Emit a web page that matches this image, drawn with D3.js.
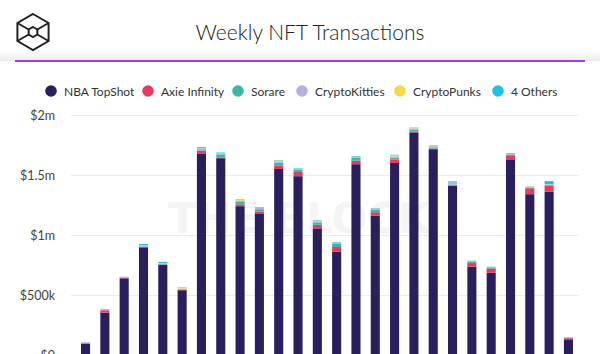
<!DOCTYPE html>
<html>
<head>
<meta charset="utf-8">
<script src="https://cdn.jsdelivr.net/npm/d3@7"></script>
<style>
    body { margin: 0; background: #fff; }
    text { font-family: Lato, "Open Sans", sans-serif; }
    .title { font-size: 21px; fill: #222; font-weight: 300; }
    .legend { font-size: 12px; fill: #333; }
    .tick { font-size: 12.5px; fill: #444; }
    .grid { stroke: #ececec; stroke-width: 1; }
    .watermark { font-family: "DejaVu Sans", sans-serif; font-weight: bold; font-size: 42px; fill: #f4f4f4; }
</style>
</head>
<body>
<div id="chart"></div>
<script>
var width = 600
var height = 354

// weekly volume in $ millions, one entry per week
var weeks = d3.range(26)
var nba     = [0.092, 0.353, 0.639, 0.897, 0.750, 0.540, 1.680, 1.640, 1.240, 1.175, 1.550, 1.490, 1.055, 0.860, 1.590, 1.160, 1.600, 1.855, 1.715, 1.410, 0.736, 0.686, 1.625, 1.340, 1.360, 0.125]
var axie    = [0.006, 0.020, 0.004, 0.004, 0.004, 0.004, 0.020, 0.006, 0.015, 0.020, 0.030, 0.035, 0.030, 0.040, 0.030, 0.030, 0.030, 0.006, 0.004, 0.004, 0.030, 0.035, 0.040, 0.050, 0.050, 0.015]
var sorare  = [0.000, 0.000, 0.000, 0.004, 0.004, 0.002, 0.006, 0.025, 0.020, 0.020, 0.020, 0.020, 0.020, 0.025, 0.025, 0.020, 0.015, 0.015, 0.006, 0.006, 0.012, 0.004, 0.004, 0.004, 0.006, 0.002]
var kitties = [0.008, 0.010, 0.010, 0.008, 0.006, 0.008, 0.012, 0.008, 0.010, 0.010, 0.008, 0.006, 0.010, 0.010, 0.006, 0.008, 0.010, 0.012, 0.015, 0.015, 0.006, 0.008, 0.006, 0.008, 0.006, 0.005]
var punks   = [0.000, 0.000, 0.000, 0.002, 0.002, 0.010, 0.004, 0.002, 0.006, 0.002, 0.012, 0.002, 0.004, 0.002, 0.002, 0.002, 0.008, 0.003, 0.007, 0.002, 0.002, 0.001, 0.002, 0.002, 0.002, 0.001]
var others  = [0.000, 0.000, 0.000, 0.010, 0.010, 0.002, 0.010, 0.006, 0.005, 0.005, 0.004, 0.004, 0.004, 0.004, 0.005, 0.004, 0.005, 0.004, 0.003, 0.010, 0.002, 0.002, 0.006, 0.002, 0.025, 0.002]

var seriesNames = ['NBA TopShot', 'Axie Infinity', 'Sorare', 'CryptoKitties', 'CryptoPunks', '4 Others']
var seriesValues = [nba, axie, sorare, kitties, punks, others]
var seriesColors = ['#2a1f5c', '#e8395f', '#3cb6a6', '#b8afe0', '#f7d84c', '#1fc1ea']

var yTicks = [0, 0.5, 1, 1.5, 2]
var yTickLabels = ['$0', '$500k', '$1m', '$1.5m', '$2m']

var svg = d3.select('#chart')
    .append('svg')
    .attr('width', width)
    .attr('height', height)

// header shadow + purple rule
var defs = svg.append('defs')
var grad = defs.append('linearGradient')
    .attr('id', 'hdrShadow')
    .attr('x1', 0).attr('x2', 0).attr('y1', 0).attr('y2', 1)
grad.append('stop').attr('offset', '0%').attr('stop-color', '#ffffff')
grad.append('stop').attr('offset', '100%').attr('stop-color', '#ebebeb')

svg.append('rect')
    .attr('x', 0).attr('y', 51)
    .attr('width', width).attr('height', 10)
    .attr('fill', 'url(#hdrShadow)')

svg.append('line')
    .attr('x1', 15).attr('x2', 585)
    .attr('y1', 61).attr('y2', 61)
    .attr('stroke', '#a040d4')
    .attr('stroke-width', 2)

// logo: cube outline
var logo = svg.append('g')
    .attr('transform', 'translate(33,32)')
    .attr('fill', 'none')
    .attr('stroke', '#222')
    .attr('stroke-width', 2)
var R = 18
var hex = d3.range(6).map(function (i) {
    var a = Math.PI / 3 * i - Math.PI / 2
    return [R * Math.cos(a), R * Math.sin(a)]
})
logo.append('path').attr('d', d3.line()(hex) + 'Z')
var r = 5
var small = d3.range(6).map(function (i) {
    var a = Math.PI / 3 * i - Math.PI / 2
    return [r * Math.cos(a), r * Math.sin(a)]
})
logo.append('path').attr('d', d3.line()(small) + 'Z')
;[1, 2, 4, 5].forEach(function (i) {
    logo.append('line')
        .attr('x1', hex[i][0]).attr('y1', hex[i][1])
        .attr('x2', small[i][0]).attr('y2', small[i][1])
})

svg.append('text')
    .attr('class', 'title')
    .attr('x', 310)
    .attr('y', 40)
    .attr('text-anchor', 'middle')
    .text('Weekly NFT Transactions')

// legend
var legendX = [51, 148, 238, 302, 400, 498]
var lg = svg.append('g')
seriesNames.forEach(function (name, i) {
    lg.append('circle')
        .attr('cx', legendX[i])
        .attr('cy', 91)
        .attr('r', 5.8)
        .attr('fill', seriesColors[i])
    lg.append('text')
        .attr('class', 'legend')
        .attr('x', legendX[i] + 13)
        .attr('y', 95.5)
        .text(name)
})

// scales
var x = d3.scaleBand()
    .domain(weeks)
    .range([70, 584])
    .paddingInner(0.53)
    .paddingOuter(0.57)

var y = d3.scaleLinear()
    .domain([0, 2])
    .range([355, 115])

// grid + labels
svg.selectAll('.grid')
    .data(yTicks)
    .enter().append('line')
    .attr('class', 'grid')
    .attr('x1', 71).attr('x2', 579)
    .attr('y1', function (d) { return Math.round(y(d)) + 0.5 })
    .attr('y2', function (d) { return Math.round(y(d)) + 0.5 })

svg.selectAll('.tick')
    .data(yTicks)
    .enter().append('text')
    .attr('class', 'tick')
    .attr('x', 55)
    .attr('y', function (d) { return y(d) + 4.5 })
    .attr('text-anchor', 'end')
    .text(function (d, i) { return yTickLabels[i] })

// watermark
svg.append('text')
    .attr('class', 'watermark')
    .attr('x', 168)
    .attr('y', 233)
    .attr('textLength', 262)
    .attr('lengthAdjust', 'spacingAndGlyphs')
    .text('THE BLOCK')

// stacked bars
var table = weeks.map(function (w) {
    var row = { week: w }
    seriesNames.forEach(function (name, i) { row[name] = seriesValues[i][w] })
    return row
})
var stacked = d3.stack().keys(seriesNames)(table)

svg.append('g')
    .selectAll('g')
    .data(stacked)
    .enter().append('g')
    .attr('fill', function (d, i) { return seriesColors[i] })
    .selectAll('rect')
    .data(function (d) { return d })
    .enter().append('rect')
    .attr('x', function (d) { return x(d.data.week) })
    .attr('width', x.bandwidth())
    .attr('y', function (d) { return y(d[1]) })
    .attr('height', function (d) { return Math.max(0, y(d[0]) - y(d[1])) })
</script>
</body>
</html>
